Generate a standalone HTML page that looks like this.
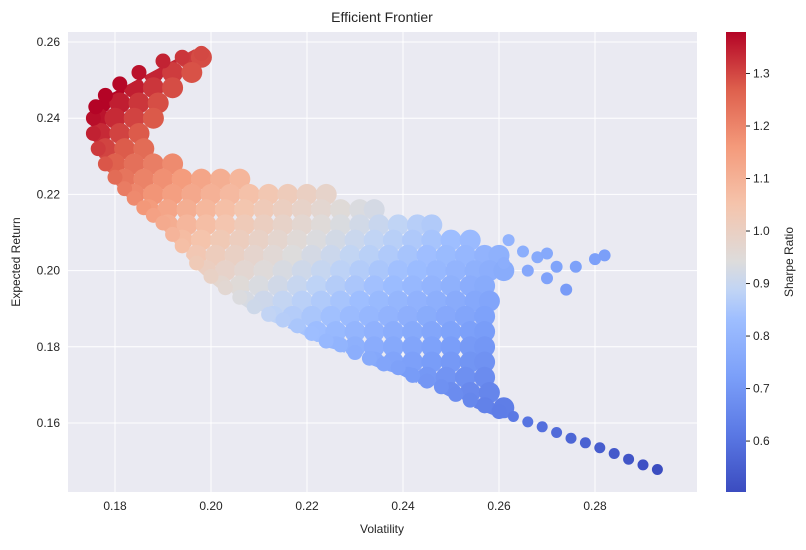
<!DOCTYPE html>
<html><head><meta charset="utf-8"><style>
body{margin:0;background:#fff;font-family:"Liberation Sans",Arial,sans-serif;}
svg text{font-family:"Liberation Sans",Arial,sans-serif;fill:#262626;}
</style></head><body>
<svg id="c" width="806" height="545">
<defs>
<linearGradient id="cw" x1="0" y1="1" x2="0" y2="0">
<stop offset="0" stop-color="#3b4cc0"/><stop offset="0.125" stop-color="#5a78e4"/>
<stop offset="0.25" stop-color="#7b9ff9"/><stop offset="0.375" stop-color="#9ebeff"/>
<stop offset="0.4375" stop-color="#c0d4f5"/><stop offset="0.5" stop-color="#dddcdc"/>
<stop offset="0.625" stop-color="#f5c4ac"/><stop offset="0.75" stop-color="#f49a7b"/>
<stop offset="0.875" stop-color="#de604d"/><stop offset="1" stop-color="#b40426"/>
</linearGradient>
<clipPath id="pc"><rect x="68" y="32" width="629" height="460"/></clipPath>
<clipPath id="fc"><path id="fcp" d=""/></clipPath>
</defs>
<rect x="68" y="32" width="629" height="460" fill="#eaeaf2"/>
<g id="grid"></g>
<g clip-path="url(#pc)"><g id="cloud" clip-path="url(#fc)"></g><g id="pts"></g></g>
<g id="ticks"></g>
<text x="382" y="22" text-anchor="middle" font-size="14">Efficient Frontier</text>
<text x="382" y="533" text-anchor="middle" font-size="12">Volatility</text>
<text x="20" y="262" text-anchor="middle" font-size="12" transform="rotate(-90 20 262)">Expected Return</text>
<rect x="726" y="32" width="20" height="460" fill="url(#cw)"/>
<g id="cbt"></g>
<text x="793" y="262" text-anchor="middle" font-size="12" transform="rotate(-90 793 262)">Sharpe Ratio</text>
</svg>
<script>
const xTicks=[0.18,0.20,0.22,0.24,0.26,0.28];
const yTicks=[0.16,0.18,0.20,0.22,0.24,0.26];
const cTicks=[0.6,0.7,0.8,0.9,1.0,1.1,1.2,1.3];
// cloud rows: return level and volatility values
const rowRet=[0.256,0.252,0.248,0.244,0.240,0.236,0.232,0.228,0.224,0.220,0.216,0.212,0.208,0.204,0.200,0.196,0.192,0.188,0.184,0.180,0.176,0.172,0.168,0.164];
const rowVols=[
[0.191,0.195,0.198],
[0.184,0.188,0.192,0.196],
[0.180,0.184,0.188,0.192],
[0.177,0.181,0.185,0.189],
[0.1765,0.180,0.184,0.188],
[0.177,0.181,0.185],
[0.178,0.182,0.186],
[0.180,0.184,0.188,0.192],
[0.182,0.186,0.190,0.194,0.198,0.202,0.206],
[0.184,0.188,0.192,0.196,0.200,0.204,0.208,0.212,0.216,0.220,0.224],
[0.187,0.191,0.195,0.199,0.203,0.207,0.211,0.215,0.219,0.223,0.227,0.231,0.234],
[0.191,0.195,0.199,0.203,0.207,0.211,0.215,0.219,0.223,0.227,0.231,0.235,0.239,0.243,0.246],
[0.194,0.198,0.202,0.206,0.210,0.214,0.218,0.222,0.226,0.230,0.234,0.238,0.242,0.246,0.250,0.254],
[0.197,0.201,0.205,0.209,0.213,0.217,0.221,0.225,0.229,0.233,0.237,0.241,0.245,0.249,0.253,0.257,0.260],
[0.199,0.203,0.207,0.211,0.215,0.219,0.223,0.227,0.231,0.235,0.239,0.243,0.247,0.251,0.255,0.258,0.261],
[0.202,0.206,0.210,0.214,0.218,0.222,0.226,0.230,0.234,0.238,0.242,0.246,0.250,0.254,0.257],
[0.207,0.211,0.215,0.219,0.223,0.227,0.231,0.235,0.239,0.243,0.247,0.251,0.255,0.258],
[0.213,0.217,0.221,0.225,0.229,0.233,0.237,0.241,0.245,0.249,0.253,0.257],
[0.218,0.222,0.226,0.230,0.234,0.238,0.242,0.246,0.250,0.254,0.257],
[0.226,0.230,0.234,0.238,0.242,0.246,0.250,0.254,0.257],
[0.234,0.238,0.242,0.246,0.250,0.254,0.257],
[0.241,0.245,0.249,0.253,0.257],
[0.250,0.254,0.258],
[0.257,0.261]];
// frontier edge portfolios
const edgeVol=[0.1755,0.1755,0.176,0.178,0.181,0.185,0.190,0.194,0.198,0.1765,0.178,0.180,0.182,0.184,0.186,0.188,0.190,0.192,0.194,0.197,0.200,0.203,0.206,0.209,0.212,0.215,0.218,0.221,0.224,0.227,0.230,0.233,0.236,0.239,0.242,0.245,0.248,0.251,0.254,0.257,0.260,0.263,0.266,0.269,0.272,0.275,0.278,0.281,0.284,0.287,0.290,0.293];
const edgeRet=[0.236,0.240,0.243,0.246,0.249,0.252,0.255,0.256,0.257,0.232,0.228,0.2245,0.2215,0.219,0.2165,0.2145,0.2125,0.2095,0.2065,0.202,0.1985,0.1955,0.193,0.1905,0.1885,0.187,0.1855,0.1835,0.1815,0.1805,0.1785,0.177,0.1755,0.1745,0.1725,0.171,0.1695,0.1675,0.166,0.1645,0.163,0.1617,0.1603,0.159,0.1575,0.156,0.1548,0.1535,0.152,0.1505,0.149,0.1478];
// outlier portfolios
const outVol=[0.265,0.268,0.272,0.276,0.280,0.282,0.270,0.262,0.274,0.266,0.270,0.261];
const outRet=[0.205,0.2035,0.201,0.201,0.203,0.204,0.198,0.208,0.195,0.200,0.2045,0.202];

const X=v=>115+(v-0.18)*4800;
const Y=r=>42+(0.26-r)*3810;
const cMin=0.503,cMax=1.379;
const CY=s=>32+(cMax-s)/(cMax-cMin)*460;
const stops=[[0,59,76,192],[0.125,90,120,228],[0.25,123,159,249],[0.375,158,190,255],[0.4375,192,212,245],[0.5,221,220,220],[0.625,245,196,172],[0.75,244,154,123],[0.875,222,96,77],[1,180,4,38]];
function cmap(s){let t=Math.max(0,Math.min(1,(s-cMin)/(cMax-cMin)));
 for(let i=1;i<stops.length;i++){if(t<=stops[i][0]){const a=stops[i-1],b=stops[i],f=(t-a[0])/(b[0]-a[0]);
 return `rgb(${[1,2,3].map(k=>Math.round(a[k]+(b[k]-a[k])*f)).join(',')})`;}}return 'rgb(180,4,38)';}
const NS='http://www.w3.org/2000/svg';
function mk(tag,attrs,parent){const e=document.createElementNS(NS,tag);for(const k in attrs)e.setAttribute(k,attrs[k]);parent.appendChild(e);return e;}
const grid=document.getElementById('grid'),ticks=document.getElementById('ticks'),pts=document.getElementById('pts'),cloud=document.getElementById('cloud'),cbt=document.getElementById('cbt');
xTicks.forEach(v=>{const l=mk('line',{x1:X(v),x2:X(v),y1:32,y2:492,stroke:'#fff','stroke-width':1},grid);
 
 
 const t=mk('text',{x:X(v),y:510,'text-anchor':'middle','font-size':12},ticks);t.textContent=v.toFixed(2);
 
 });
yTicks.forEach(v=>{const l=mk('line',{x1:68,x2:697,y1:Y(v),y2:Y(v),stroke:'#fff','stroke-width':1},grid);
 
 
 const t=mk('text',{x:60,y:Y(v)+4,'text-anchor':'end','font-size':12},ticks);t.textContent=v.toFixed(2);
 
 });
cTicks.forEach(v=>{mk('line',{x1:746,x2:750,y1:CY(v),y2:CY(v),stroke:'#262626'},cbt);
 const t=mk('text',{x:753,y:CY(v)+4,'font-size':12},cbt);t.textContent=v.toFixed(1);
 
 });
let d=`M68,32 L697,32 L697,${Y(edgeRet[edgeRet.length-1])+6} `;
for(let i=edgeVol.length-1;i>=9;i--){d+=`L${X(edgeVol[i])},${Y(edgeRet[i])+6} `;}
d+=`L${X(0.1755)-7},${Y(0.236)} L${X(0.1755)-7},${Y(0.243)} L${X(0.198)},${Y(0.257)-8} L${X(0.198)},32 Z`;
document.getElementById('fcp').setAttribute('d',d);
function dot(v,r,rad,parent){const c=mk('circle',{cx:X(v),cy:Y(r),r:rad,fill:cmap(r/v)},parent);
 
 }
rowRet.forEach((r,i)=>rowVols[i].forEach(v=>dot(v,r,10.5,cloud)));
outVol.forEach((v,i)=>dot(v,outRet[i],6,pts));
edgeVol.forEach((v,i)=>dot(v,edgeRet[i],v>0.262?5.5:7.5,pts));
</script>
</body></html>
